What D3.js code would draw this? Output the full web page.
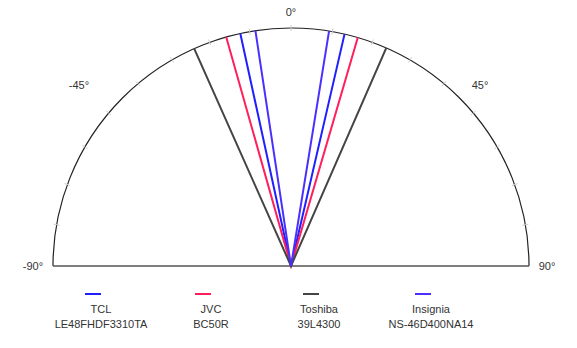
<!DOCTYPE html>
<html><head><meta charset="utf-8">
<script src="https://cdn.jsdelivr.net/npm/d3@7"></script>
<style>body{margin:0;background:#fff}svg{display:block}text{font-family:"Liberation Sans",Arial,sans-serif;fill:#333}</style>
</head><body><svg id="c" width="577" height="348"></svg>
<script>
const brands = ["TCL", "JVC", "Toshiba", "Insignia"];
const models = ["LE48FHDF3310TA", "BC50R", "39L4300", "NS-46D400NA14"];
const leftAngles = [-12.3, -15.8, -24, -8.6];
const rightAngles = [13.0, 16.3, 23.6, 9.2];
const colors = ["#1f1fff", "#ff1f5a", "#444444", "#4a30ff"];
const angleTicks = [-90, -45, 0, 45, 90];

const svg = d3.select("#c");
const cx = 291, cy = 266, R = 238;
const ang = d3.scaleLinear().domain([-90, 90]).range([-Math.PI/2, Math.PI/2]);
const rad = d3.scaleLinear().domain([0, 1]).range([0, R]);
const g = svg.append("g").attr("transform", `translate(${cx},${cy})`);

g.append("path")
  .attr("d", d3.arc()({innerRadius: R, outerRadius: R, startAngle: ang(-90), endAngle: ang(90)}))
  .attr("fill", "none").attr("stroke", "#222").attr("stroke-width", 1.2);

const minor = d3.range(-80, 90, 10);
g.selectAll(".mt").data(minor).enter().append("line")
  .attr("x1", d => (R - 3) * Math.sin(ang(d))).attr("y1", d => -(R - 3) * Math.cos(ang(d)))
  .attr("x2", d => (R + 3) * Math.sin(ang(d))).attr("y2", d => -(R + 3) * Math.cos(ang(d)))
  .attr("stroke", "#ccc").attr("stroke-width", 1);

g.append("line").attr("x1", -R).attr("x2", R).attr("y1", 0).attr("y2", 0)
  .attr("stroke", "#555").attr("stroke-width", 1.6);

const lblPos = {"-90": [-R - 20, 4], "-45": [-212, -177], "0": [0, -250], "45": [189, -177], "90": [R + 18, 4]};
g.selectAll(".al").data(angleTicks).enter().append("text")
  .attr("x", d => lblPos[d][0]).attr("y", d => lblPos[d][1])
  .attr("text-anchor", "middle").attr("font-size", 11)
  .text(d => d + "°");

const radial = d3.lineRadial().angle(d => ang(d[0])).radius(d => rad(d[1]));
brands.forEach((b, i) => {
  const pts = [[leftAngles[i], 1], [leftAngles[i], 0], [rightAngles[i], 1]];
  g.append("path").attr("d", radial(pts)).attr("fill", "none")
    .attr("stroke", colors[i]).attr("stroke-width", 2).attr("stroke-linejoin", "miter");
});

const legX = [101, 211, 319, 431];
brands.forEach((b, i) => {
  const lg = svg.append("g").attr("transform", `translate(${legX[i]},0)`);
  lg.append("line").attr("x1", -16).attr("x2", 0).attr("y1", 294).attr("y2", 294)
    .attr("stroke", colors[i]).attr("stroke-width", 2);
  lg.append("text").attr("x", 0).attr("y", 313).attr("text-anchor", "middle").attr("font-size", 11).text(b);
  lg.append("text").attr("x", 0).attr("y", 328).attr("text-anchor", "middle").attr("font-size", 11).text(models[i]);
});
</script></body></html>
